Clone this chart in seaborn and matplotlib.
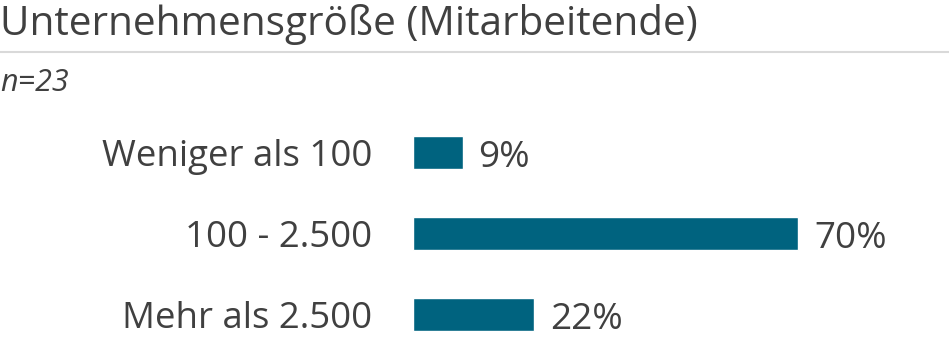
import matplotlib
matplotlib.use("Agg")
import matplotlib.pyplot as plt
import seaborn as sns
import pandas as pd
from matplotlib.lines import Line2D

categories = ["Weniger als 100", "100 - 2.500", "Mehr als 2.500"]
values = [9, 70, 22]
value_labels = ["9%", "70%", "22%"]
title = "Unternehmensgröße (Mitarbeitende)"
subtitle = "n=23"

sns.set_theme(style="white")
plt.rcParams['font.family'] = ['Open Sans', 'DejaVu Sans']

W, H = 949, 340
fig = plt.figure(figsize=(W / 100, H / 100), dpi=100)
text_color = "#404040"
bar_color = "#00637F"

left = 413 / W
right = 908 / W
top_px = 112
bot_px = 338.8
ax = fig.add_axes([left, 1 - bot_px / H, right - left, (bot_px - top_px) / H])

df = pd.DataFrame({"cat": categories, "val": values})
sns.barplot(data=df, y="cat", x="val", orient="h", color=bar_color,
            width=0.41, saturation=1, ax=ax)
ax.set_xlim(0, 90)
ax.set_ylim(2.3, -0.5)
ax.set_xlabel("")
ax.set_ylabel("")
ax.set_xticks([])
for s in ax.spines.values():
    s.set_visible(False)
ax.tick_params(axis="y", length=0, pad=29.5, labelsize=26.4, labelcolor=text_color)

for i, (v, lab) in enumerate(zip(values, value_labels)):
    ax.annotate(lab, xy=(v, i), xytext=(16, -14.5), textcoords="offset pixels",
                ha="left", va="baseline", fontsize=26.6, color=text_color,
                annotation_clip=False)

fig.text(0.0, 1 - 35 / H, title, fontsize=29.2, color=text_color, va="baseline", ha="left")
fig.add_artist(Line2D([0, 1], [1 - 51.5 / H, 1 - 51.5 / H], color="#d9d9d9", lw=1.5,
                      transform=fig.transFigure))
fig.text(0.0, 1 - 91 / H, subtitle, fontsize=22, color=text_color, style="italic",
         va="baseline", ha="left")

fig.savefig("out.png", dpi=100)
